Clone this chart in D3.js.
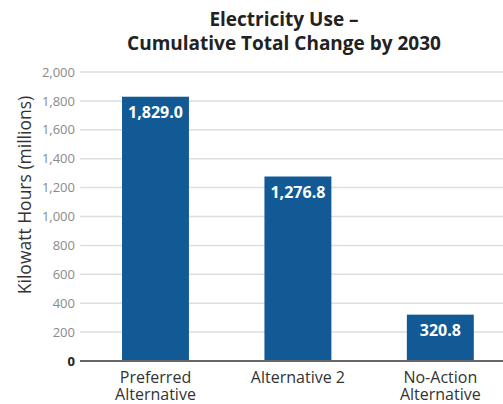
<!DOCTYPE html>
<html>
<head>
<meta charset="utf-8">
<script src="https://cdnjs.cloudflare.com/ajax/libs/d3/7.8.5/d3.min.js"></script>
<style>
  body { margin: 0; background: #fff; }
  svg { display: block; font-family: "Open Sans", sans-serif; }
</style>
</head>
<body>
<script>
/* data */
var categories = ["Preferred Alternative", "Alternative 2", "No-Action Alternative"];
var categoryLines = [["Preferred", "Alternative"], ["Alternative 2"], ["No-Action", "Alternative"]];
var values = [1829.0, 1276.8, 320.8];
var yTicks = [0, 200, 400, 600, 800, 1000, 1200, 1400, 1600, 1800, 2000];
var titleLines = ["Electricity Use \u2013", "Cumulative Total Change by 2030"];

var width = 503, height = 404;
var plotLeft = 80, plotRight = 503, plotTop = 72, plotBottom = 361;

var svg = d3.select("body").append("svg")
    .attr("width", width)
    .attr("height", height);

/* scales */
var x = d3.scaleBand()
    .domain(categories)
    .range([plotLeft, plotRight])
    .paddingInner(0.53)
    .paddingOuter(0.25)
    .align(0.59);

var y = d3.scaleLinear()
    .domain([0, 2000])
    .range([plotBottom, plotTop]);

/* gridlines */
svg.append("g")
    .selectAll("line")
    .data(yTicks.filter(function (d) { return d > 0; }))
    .join("line")
    .attr("x1", plotLeft)
    .attr("x2", plotRight)
    .attr("y1", function (d) { return y(d); })
    .attr("y2", function (d) { return y(d); })
    .attr("stroke", "#dedede")
    .attr("stroke-width", 1.5);

/* y axis labels */
var yAxis = d3.axisLeft(y)
    .tickValues(yTicks)
    .tickSize(0)
    .tickPadding(5)
    .tickFormat(d3.format(","));

var yAxisGroup = svg.append("g")
    .attr("transform", "translate(" + plotLeft + ",0)")
    .call(yAxis);
yAxisGroup.select(".domain").remove();
yAxisGroup.selectAll("text")
    .attr("font-family", "'Open Sans', sans-serif")
    .attr("font-size", 13)
    .attr("fill", function (d) { return d === 0 ? "#222" : "#8a8a8a"; })
    .attr("font-weight", function (d) { return d === 0 ? "bold" : "normal"; });

/* bars */
svg.append("g")
    .selectAll("rect")
    .data(values)
    .join("rect")
    .attr("x", function (d, i) { return x(categories[i]); })
    .attr("y", function (d) { return y(d); })
    .attr("width", x.bandwidth())
    .attr("height", function (d) { return y(0) - y(d); })
    .attr("fill", "#125a95");

/* value labels */
svg.append("g")
    .selectAll("text")
    .data(values)
    .join("text")
    .attr("x", function (d, i) { return x(categories[i]) + x.bandwidth() / 2; })
    .attr("y", function (d) { return y(d) + 21; })
    .attr("text-anchor", "middle")
    .attr("font-size", 16)
    .attr("font-weight", "bold")
    .attr("fill", "#fff")
    .text(function (d) { return d3.format(",.1f")(d); });

/* baseline */
svg.append("line")
    .attr("x1", plotLeft)
    .attr("x2", plotRight)
    .attr("y1", y(0))
    .attr("y2", y(0))
    .attr("stroke", "#666")
    .attr("stroke-width", 2);

/* category labels, one text per line */
var catGroup = svg.append("g");
categories.forEach(function (c, i) {
    categoryLines[i].forEach(function (line, j) {
        catGroup.append("text")
            .attr("x", x(c) + x.bandwidth() / 2)
            .attr("y", 383 + j * 16.5)
            .attr("text-anchor", "middle")
            .attr("font-size", 16)
            .attr("fill", "#333")
            .text(line);
    });
});

/* y axis title */
svg.append("text")
    .attr("transform", "translate(25,195) rotate(-90)")
    .attr("text-anchor", "middle")
    .attr("dy", "0.35em")
    .attr("font-size", 17.5)
    .attr("fill", "#333")
    .text("Kilowatt Hours (millions)");

/* title */
svg.append("g")
    .selectAll("text")
    .data(titleLines)
    .join("text")
    .attr("x", 284)
    .attr("y", function (d, i) { return 26 + i * 24; })
    .attr("text-anchor", "middle")
    .attr("font-size", 19)
    .attr("font-weight", "bold")
    .attr("fill", "#222")
    .text(function (d) { return d; });
</script>
</body>
</html>
